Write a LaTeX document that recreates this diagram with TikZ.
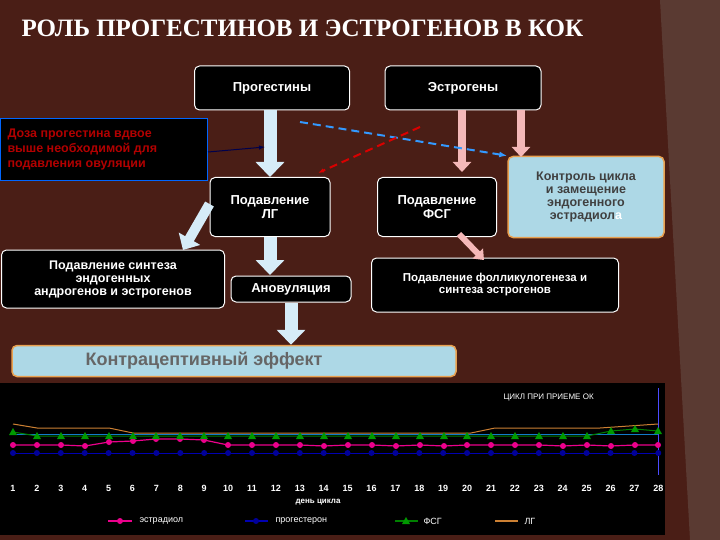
\documentclass[tikz,border=0pt]{standalone}
\usepackage{fontspec}
\setmainfont{Liberation Sans}
\newfontfamily\serifttl{Liberation Serif}
\usetikzlibrary{arrows.meta}
\definecolor{bg}{HTML}{4A1E16}
\definecolor{bgr}{HTML}{5A3A32}
\definecolor{lblue}{HTML}{ADD8E6}
\definecolor{arrb}{HTML}{D6ECF8}
\definecolor{arrp}{HTML}{F4B8B8}
\definecolor{brd}{HTML}{E8A050}
\begin{document}
\begin{tikzpicture}[x=1pt,y=-1pt,
  bx/.style={draw=white,fill=black,rounded corners=5pt,line width=1pt,text=white,font=\fontsize{13}{13.5}\selectfont\bfseries,align=center,inner sep=0pt},
  lb/.style={draw=brd,fill=lblue,rounded corners=5pt,line width=1.5pt,text=black!75,align=center,inner sep=0pt},
  barrow/.style={draw=arrb,line width=13pt,-{Triangle[length=15pt,width=28pt]}},
  parrow/.style={draw=arrp,line width=8pt,-{Triangle[length=10pt,width=18pt]}},
  ax/.style={text=white,font=\fontsize{9}{9}\selectfont\bfseries}]
\fill[bg] (0,0) rectangle (720,540);
\fill[bgr] (660,0) -- (720,0) -- (720,540) -- (690,540) -- cycle;
\node[text=white,font=\serifttl\fontsize{25}{25}\selectfont\bfseries,anchor=west] (title) at (18,28) {РОЛЬ ПРОГЕСТИНОВ И ЭСТРОГЕНОВ В КОК};
% boxes
\node[bx,minimum width=155pt,minimum height=44pt] (prog) at (272,88) {Прогестины};
\node[bx,minimum width=156pt,minimum height=44pt] (estr) at (463,88) {Эстрогены};
\node[draw=blue!60!cyan,fill=black,line width=1pt,minimum width=207pt,minimum height=62pt,anchor=north west,inner sep=0pt] (dose) at (0,118) {};
\node[text=red!70!black,font=\fontsize{12.5}{15}\selectfont\bfseries,align=left,anchor=west] (dosetxt) at (4,149) {Доза прогестина вдвое\\выше необходимой для\\подавления овуляции};
\node[bx,minimum width=120pt,minimum height=59pt] (lg) at (270,207) {Подавление\\ЛГ};
\node[bx,minimum width=119pt,minimum height=59pt] (fsg) at (437,207) {Подавление\\ФСГ};
\node[lb,minimum width=156pt,minimum height=81pt,font=\fontsize{12.5}{13}\selectfont\bfseries] (ctrl) at (586,197) {Контроль цикла\\и замещение\\эндогенного\\эстрадиол\textcolor{white}{а}};
\node[bx,minimum width=223pt,minimum height=58pt,font=\fontsize{12.5}{13}\selectfont\bfseries] (synt) at (113,279) {Подавление синтеза\\эндогенных\\андрогенов и эстрогенов};
\node[bx,minimum width=120pt,minimum height=26pt] (anov) at (291,289) {Ановуляция};
\node[bx,minimum width=247pt,minimum height=54pt,font=\fontsize{11.5}{12}\selectfont\bfseries] (foll) at (495,285) {Подавление фолликулогенеза и\\синтеза эстрогенов};
\node[lb,minimum width=444pt,minimum height=31pt,font=\fontsize{18}{18}\selectfont\bfseries,text=gray!80!black] (kontr) at (234,361) {\hspace*{-60pt}Контрацептивный эффект};
% block arrows
\draw[barrow] (prog.south -| lg) -- (lg.north);
\draw[barrow] (lg.south) -- (270,275);
\draw[barrow] (anov.south) -- (kontr.north -| anov);
\draw[barrow,line width=10pt,-{Triangle[length=13pt,width=24pt]}] (lg.west) ++(0,-3) -- (183,250);
\draw[parrow] (estr.south -| fsg) ++(25,0) -- (462,172);
\draw[parrow] (estr.south) ++(58,0) -- (521,157);
\draw[parrow,line width=6pt,-{Triangle[length=9pt,width=14pt]}] (fsg.south) ++(22,-3) -- (484,260);
% connectors
\coordinate (dstart) at (300,122);
\coordinate (rstart) at (420,127);
\coordinate (rend) at (318,173);
\draw[blue!50!cyan!80!white,line width=2pt,dash pattern=on 8pt off 5pt,-{Latex[length=8pt]}] (dstart) -- (ctrl.north west);
\draw[red!85!black,line width=2pt,dash pattern=on 8pt off 5pt,-{Latex[length=6pt]}] (rstart) -- (rend);
\draw[blue!30!black,line width=1pt,-{Latex[length=6pt]}] (dose.east |- 0,152) -- (265,147);
% chart
\fill[black] (0,383) rectangle (665,535);
\node[text=white,font=\fontsize{8}{8}\selectfont,anchor=west] (ctitle) at (500,398) {ЦИКЛ ПРИ ПРИЕМЕ ОК};
\draw[blue!70!white,line width=0.8pt] (658,388) -- (658,475);
\draw[cyan!60!blue,line width=0.5pt] (13,434) -- (658,434);
\draw[brown!80!orange,line width=1pt] (13,424) -- (37,428) -- (109,428) -- (133,433) -- (471,433) -- (495,428) -- (600,428) -- (658,424);
\draw[blue!70!black,line width=1pt] (13,453) -- (658,453);
\foreach \d in {1,...,28} {
  \pgfmathsetmacro\xx{13+(\d-1)*23.9}
  \fill[blue!60!black] (\xx,453) circle (3pt);
  \node[ax] at (\xx,488) {\d};
}
\draw[magenta,line width=1.2pt] plot coordinates {(13,445) (37,445) (61,445) (85,446) (109,442) (133,441) (156,439) (180,439) (204,440) (228,445) (252,445) (276,445) (300,445) (324,446) (348,445) (372,445) (396,446) (420,445) (444,446) (467,445) (491,445) (515,445) (539,445) (563,446) (587,445) (611,446) (635,445) (658,445)};
\foreach \x/\y in {13/445,37/445,61/445,85/446,109/442,133/441,156/439,180/439,204/440,228/445,252/445,276/445,300/445,324/446,348/445,372/445,396/446,420/445,444/446,467/445,491/445,515/445,539/445,563/446,587/445,611/446,635/445,658/445}
  \fill[magenta] (\x,\y) circle (3pt);
\draw[green!50!black,line width=1pt] plot coordinates {(13,432) (37,436) (61,436) (85,436) (109,436) (133,436) (156,436) (180,436) (204,436) (228,436) (252,436) (276,436) (300,436) (324,436) (348,436) (372,436) (396,436) (420,436) (444,436) (467,436) (491,436) (515,436) (539,436) (563,436) (587,436) (611,431) (635,429) (658,431)};
\foreach \x/\y in {13/432,37/436,61/436,85/436,109/436,133/436,156/436,180/436,204/436,228/436,252/436,276/436,300/436,324/436,348/436,372/436,396/436,420/436,444/436,467/436,491/436,515/436,539/436,563/436,587/436,611/431,635/429,658/431}
  \fill[green!60!black] (\x,\y-4) -- (\x+4,\y+3) -- (\x-4,\y+3) -- cycle;
\node[ax,font=\fontsize{8}{8}\selectfont\bfseries] (dl) at (318,502) {день цикла};
\draw[magenta,line width=1.2pt] (108,521) -- (132,521); \fill[magenta] (120,521) circle (3pt);
\node[ax,anchor=west,font=\fontsize{9}{9}\selectfont] (l1) at (136,521) {эстрадиол};
\draw[blue!70!black,line width=1.2pt] (245,521) -- (268,521); \fill[blue!60!black] (256,521) circle (3pt);
\node[ax,anchor=west,font=\fontsize{9}{9}\selectfont] (l2) at (272,521) {прогестерон};
\draw[green!50!black,line width=1.2pt] (395,521) -- (418,521); \fill[green!60!black] (406,517) -- (410,524) -- (402,524) -- cycle;
\node[ax,anchor=west,font=\fontsize{9}{9}\selectfont] (l3) at (420,521) {ФСГ};
\draw[brown!80!orange,line width=1.2pt] (495,521) -- (518,521);
\node[ax,anchor=west,font=\fontsize{9}{9}\selectfont] (l4) at (521,521) {ЛГ};
\end{tikzpicture}
\end{document}
